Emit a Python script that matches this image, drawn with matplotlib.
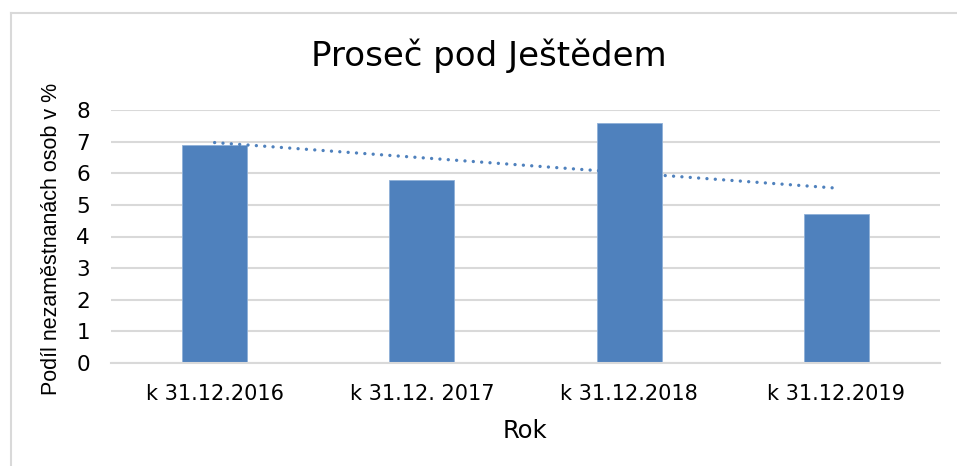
import numpy as np
import matplotlib
matplotlib.use("Agg")
import matplotlib.pyplot as plt
from matplotlib.lines import Line2D

categories = ["k 31.12.2016", "k 31.12. 2017", "k 31.12.2018", "k 31.12.2019"]
values = [6.9, 5.8, 7.6, 4.7]
yticks = [0, 1, 2, 3, 4, 5, 6, 7, 8]
title = "Proseč pod Ještědem"
xlabel = "Rok"
ylabel = "Podíl nezaměstnanách osob v %"

W, H = 957, 466
fig = plt.figure(figsize=(W / 100, H / 100), dpi=100)
fig.patch.set_facecolor("white")

L, R = 111 / W, 940 / W
B, T = 1 - 363 / H, 1 - 110 / H
ax = fig.add_axes([L, B, R - L, T - B])

blue = "#4F81BD"
grid = "#D9D9D9"
x = np.arange(len(categories))
ax.bar(x, values, width=0.314, color=blue, edgecolor="#8FB0D8", linewidth=0.6, zorder=2)

# linear trendline (Excel-style)
k, q = np.polyfit(x, values, 1)
ax.plot(x[[0, -1]], k * x[[0, -1]] + q, color=blue, linewidth=2.4,
        linestyle=(0, (0.01, 2.5)), dash_capstyle="round", zorder=3)

ax.set_xlim(-0.5, len(categories) - 0.5)
ax.set_ylim(0, 8)
ax.set_yticks(yticks)
ax.set_xticks(x)
ax.set_xticklabels(categories, family="DejaVu Sans", fontsize=15)
ax.set_yticklabels([str(v) for v in yticks], family="DejaVu Sans", fontsize=15.5)
ax.tick_params(axis="both", length=0, colors="black")
ax.tick_params(axis="x", pad=15)
ax.tick_params(axis="y", pad=15)
ax.yaxis.grid(True, color=grid, linewidth=1.5, zorder=0)
ax.set_axisbelow(True)
for s in ["top", "right", "left"]:
    ax.spines[s].set_visible(False)
ax.spines["bottom"].set_color(grid)
ax.spines["bottom"].set_linewidth(1.5)

fig.text(489 / W, 1 - 66 / H, title, ha="center", va="baseline",
         family="DejaVu Sans", fontsize=24.5)
fig.text(525 / W, 1 - 438 / H, xlabel, ha="center", va="baseline",
         family="DejaVu Sans", fontsize=17.5)
fig.text(52 / W, 1 - 239 / H, ylabel, ha="center", va="center", rotation=90,
         family="Liberation Sans", fontsize=15.5)

# chart area border (top and left visible in crop)
fig.add_artist(Line2D([11 / W, 1.0], [1 - 13 / H, 1 - 13 / H], color=grid,
                      linewidth=1.5, transform=fig.transFigure))
fig.add_artist(Line2D([11 / W, 11 / W], [0.0, 1 - 13 / H], color=grid,
                      linewidth=1.5, transform=fig.transFigure))

fig.savefig("out.png", dpi=100)
